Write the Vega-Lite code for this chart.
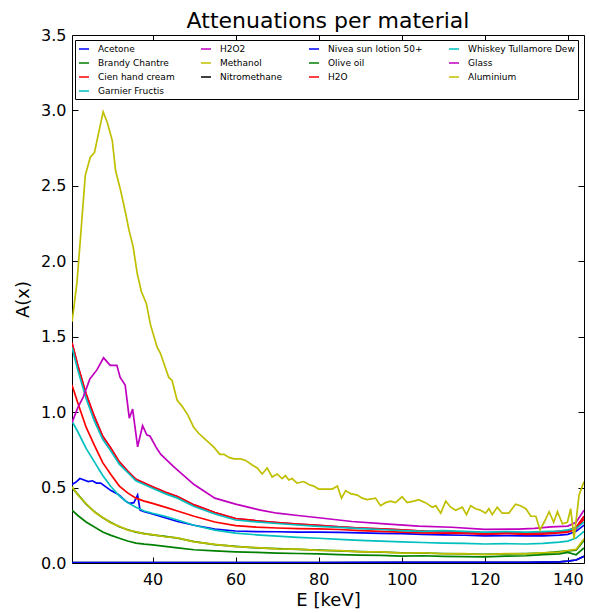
{
  "$schema": "https://vega.github.io/schema/vega-lite/v6.json",
  "width": 512,
  "height": 528,
  "autosize": "none",
  "padding": {"left": 72, "top": 35, "right": 5, "bottom": 50},
  "background": "white",
  "title": {"text": "Attenuations per material", "fontSize": 22, "font": "DejaVu Sans", "fontWeight": "normal", "color": "black", "offset": -6, "anchor": "middle"},
  "config": {
    "view": {"stroke": "black", "strokeWidth": 1},
    "axis": {"domain": false, "grid": false, "tickColor": "black", "tickSize": -6, "tickWidth": 1, "labelFont": "DejaVu Sans", "labelFontSize": 16, "labelColor": "black", "titleFont": "DejaVu Sans", "titleFontSize": 18, "titleFontWeight": "normal", "titleColor": "black"},
    "legend": {"orient": "none", "legendX": 3, "legendY": 5, "columns": 4, "symbolType": "stroke", "symbolSize": 100, "symbolStrokeWidth": 1.5, "labelFont": "DejaVu Sans", "labelFontSize": 9, "labelColor": "black", "labelOffset": 8, "columnPadding": 23, "rowPadding": 3, "strokeColor": "black", "fillColor": "white", "padding": 3, "labelLimit": 300, "gridAlign": "each"}
  },
  "data": {"values": [
    {"material":"Acetone","E":20.6,"A":0.52},{"material":"Acetone","E":21.5,"A":0.535},{"material":"Acetone","E":22.5,"A":0.56},{"material":"Acetone","E":23.5,"A":0.55},{"material":"Acetone","E":24.5,"A":0.54},{"material":"Acetone","E":25.5,"A":0.545},{"material":"Acetone","E":26.5,"A":0.53},{"material":"Acetone","E":27.5,"A":0.53},{"material":"Acetone","E":28.5,"A":0.51},{"material":"Acetone","E":30,"A":0.48},{"material":"Acetone","E":32,"A":0.45},{"material":"Acetone","E":33.5,"A":0.41},{"material":"Acetone","E":34.5,"A":0.395},{"material":"Acetone","E":35.5,"A":0.4},{"material":"Acetone","E":36.4,"A":0.45},{"material":"Acetone","E":37,"A":0.35},{"material":"Acetone","E":38,"A":0.34},{"material":"Acetone","E":40,"A":0.325},{"material":"Acetone","E":43,"A":0.3},{"material":"Acetone","E":46,"A":0.275},{"material":"Acetone","E":50,"A":0.25},{"material":"Acetone","E":55,"A":0.225},{"material":"Acetone","E":60,"A":0.212},{"material":"Acetone","E":65,"A":0.208},{"material":"Acetone","E":70,"A":0.207},{"material":"Acetone","E":75,"A":0.205},{"material":"Acetone","E":80,"A":0.205},{"material":"Acetone","E":85,"A":0.203},{"material":"Acetone","E":90,"A":0.2},{"material":"Acetone","E":95,"A":0.197},{"material":"Acetone","E":100,"A":0.195},{"material":"Acetone","E":105,"A":0.19},{"material":"Acetone","E":110,"A":0.187},{"material":"Acetone","E":115,"A":0.184},{"material":"Acetone","E":120,"A":0.18},{"material":"Acetone","E":125,"A":0.182},{"material":"Acetone","E":130,"A":0.18},{"material":"Acetone","E":134,"A":0.18},{"material":"Acetone","E":138,"A":0.185},{"material":"Acetone","E":140,"A":0.19},{"material":"Acetone","E":142,"A":0.21},{"material":"Acetone","E":143.9,"A":0.25},

    {"material":"Brandy Chantre","E":20.6,"A":0.5},{"material":"Brandy Chantre","E":22,"A":0.455},{"material":"Brandy Chantre","E":24,"A":0.39},{"material":"Brandy Chantre","E":26,"A":0.34},{"material":"Brandy Chantre","E":28,"A":0.3},{"material":"Brandy Chantre","E":30,"A":0.268},{"material":"Brandy Chantre","E":32,"A":0.24},{"material":"Brandy Chantre","E":34,"A":0.22},{"material":"Brandy Chantre","E":36,"A":0.205},{"material":"Brandy Chantre","E":38,"A":0.195},{"material":"Brandy Chantre","E":40,"A":0.186},{"material":"Brandy Chantre","E":43,"A":0.176},{"material":"Brandy Chantre","E":46,"A":0.165},{"material":"Brandy Chantre","E":50,"A":0.142},{"material":"Brandy Chantre","E":55,"A":0.122},{"material":"Brandy Chantre","E":60,"A":0.11},{"material":"Brandy Chantre","E":65,"A":0.1},{"material":"Brandy Chantre","E":70,"A":0.095},{"material":"Brandy Chantre","E":75,"A":0.09},{"material":"Brandy Chantre","E":80,"A":0.086},{"material":"Brandy Chantre","E":85,"A":0.08},{"material":"Brandy Chantre","E":90,"A":0.076},{"material":"Brandy Chantre","E":95,"A":0.072},{"material":"Brandy Chantre","E":100,"A":0.068},{"material":"Brandy Chantre","E":105,"A":0.066},{"material":"Brandy Chantre","E":110,"A":0.063},{"material":"Brandy Chantre","E":115,"A":0.06},{"material":"Brandy Chantre","E":120,"A":0.058},{"material":"Brandy Chantre","E":125,"A":0.06},{"material":"Brandy Chantre","E":130,"A":0.062},{"material":"Brandy Chantre","E":134,"A":0.065},{"material":"Brandy Chantre","E":138,"A":0.075},{"material":"Brandy Chantre","E":140,"A":0.08},{"material":"Brandy Chantre","E":142,"A":0.085},{"material":"Brandy Chantre","E":143.9,"A":0.15},

    {"material":"Cien hand cream","E":20.6,"A":1.18},{"material":"Cien hand cream","E":22,"A":1.06},{"material":"Cien hand cream","E":24,"A":0.9},{"material":"Cien hand cream","E":26,"A":0.78},{"material":"Cien hand cream","E":28,"A":0.665},{"material":"Cien hand cream","E":30,"A":0.585},{"material":"Cien hand cream","E":32,"A":0.51},{"material":"Cien hand cream","E":34,"A":0.465},{"material":"Cien hand cream","E":36,"A":0.43},{"material":"Cien hand cream","E":38,"A":0.41},{"material":"Cien hand cream","E":40,"A":0.395},{"material":"Cien hand cream","E":43,"A":0.37},{"material":"Cien hand cream","E":46,"A":0.345},{"material":"Cien hand cream","E":50,"A":0.31},{"material":"Cien hand cream","E":55,"A":0.272},{"material":"Cien hand cream","E":60,"A":0.248},{"material":"Cien hand cream","E":65,"A":0.238},{"material":"Cien hand cream","E":70,"A":0.232},{"material":"Cien hand cream","E":75,"A":0.228},{"material":"Cien hand cream","E":80,"A":0.226},{"material":"Cien hand cream","E":85,"A":0.222},{"material":"Cien hand cream","E":90,"A":0.215},{"material":"Cien hand cream","E":95,"A":0.21},{"material":"Cien hand cream","E":100,"A":0.205},{"material":"Cien hand cream","E":105,"A":0.2},{"material":"Cien hand cream","E":110,"A":0.198},{"material":"Cien hand cream","E":115,"A":0.196},{"material":"Cien hand cream","E":120,"A":0.19},{"material":"Cien hand cream","E":125,"A":0.195},{"material":"Cien hand cream","E":130,"A":0.19},{"material":"Cien hand cream","E":134,"A":0.192},{"material":"Cien hand cream","E":138,"A":0.2},{"material":"Cien hand cream","E":140,"A":0.205},{"material":"Cien hand cream","E":142,"A":0.225},{"material":"Cien hand cream","E":143.9,"A":0.29},

    {"material":"Garnier Fructis","E":20.6,"A":0.94},{"material":"Garnier Fructis","E":22,"A":0.87},{"material":"Garnier Fructis","E":24,"A":0.76},{"material":"Garnier Fructis","E":26,"A":0.67},{"material":"Garnier Fructis","E":28,"A":0.58},{"material":"Garnier Fructis","E":30,"A":0.505},{"material":"Garnier Fructis","E":32,"A":0.445},{"material":"Garnier Fructis","E":34,"A":0.4},{"material":"Garnier Fructis","E":36,"A":0.37},{"material":"Garnier Fructis","E":38,"A":0.345},{"material":"Garnier Fructis","E":40,"A":0.33},{"material":"Garnier Fructis","E":43,"A":0.31},{"material":"Garnier Fructis","E":46,"A":0.285},{"material":"Garnier Fructis","E":50,"A":0.25},{"material":"Garnier Fructis","E":55,"A":0.218},{"material":"Garnier Fructis","E":60,"A":0.198},{"material":"Garnier Fructis","E":65,"A":0.187},{"material":"Garnier Fructis","E":70,"A":0.178},{"material":"Garnier Fructis","E":75,"A":0.17},{"material":"Garnier Fructis","E":80,"A":0.164},{"material":"Garnier Fructis","E":85,"A":0.157},{"material":"Garnier Fructis","E":90,"A":0.15},{"material":"Garnier Fructis","E":95,"A":0.145},{"material":"Garnier Fructis","E":100,"A":0.14},{"material":"Garnier Fructis","E":105,"A":0.136},{"material":"Garnier Fructis","E":110,"A":0.132},{"material":"Garnier Fructis","E":115,"A":0.13},{"material":"Garnier Fructis","E":120,"A":0.126},{"material":"Garnier Fructis","E":125,"A":0.128},{"material":"Garnier Fructis","E":130,"A":0.126},{"material":"Garnier Fructis","E":134,"A":0.13},{"material":"Garnier Fructis","E":138,"A":0.138},{"material":"Garnier Fructis","E":140,"A":0.145},{"material":"Garnier Fructis","E":142,"A":0.165},{"material":"Garnier Fructis","E":143.9,"A":0.21},

    {"material":"H2O2","E":20.6,"A":1.46},{"material":"H2O2","E":22,"A":1.31},{"material":"H2O2","E":24,"A":1.12},{"material":"H2O2","E":26,"A":0.97},{"material":"H2O2","E":28,"A":0.84},{"material":"H2O2","E":30,"A":0.76},{"material":"H2O2","E":32,"A":0.67},{"material":"H2O2","E":34,"A":0.61},{"material":"H2O2","E":36,"A":0.555},{"material":"H2O2","E":38,"A":0.53},{"material":"H2O2","E":40,"A":0.505},{"material":"H2O2","E":43,"A":0.47},{"material":"H2O2","E":46,"A":0.44},{"material":"H2O2","E":50,"A":0.385},{"material":"H2O2","E":55,"A":0.335},{"material":"H2O2","E":60,"A":0.295},{"material":"H2O2","E":65,"A":0.28},{"material":"H2O2","E":70,"A":0.268},{"material":"H2O2","E":75,"A":0.258},{"material":"H2O2","E":80,"A":0.25},{"material":"H2O2","E":85,"A":0.24},{"material":"H2O2","E":90,"A":0.232},{"material":"H2O2","E":95,"A":0.226},{"material":"H2O2","E":100,"A":0.22},{"material":"H2O2","E":105,"A":0.212},{"material":"H2O2","E":110,"A":0.207},{"material":"H2O2","E":115,"A":0.203},{"material":"H2O2","E":120,"A":0.195},{"material":"H2O2","E":125,"A":0.2},{"material":"H2O2","E":130,"A":0.198},{"material":"H2O2","E":134,"A":0.2},{"material":"H2O2","E":138,"A":0.21},{"material":"H2O2","E":140,"A":0.215},{"material":"H2O2","E":142,"A":0.235},{"material":"H2O2","E":143.9,"A":0.31},

    {"material":"Methanol","E":20.6,"A":0.505},{"material":"Methanol","E":22,"A":0.452},{"material":"Methanol","E":24,"A":0.393},{"material":"Methanol","E":26,"A":0.338},{"material":"Methanol","E":28,"A":0.302},{"material":"Methanol","E":30,"A":0.265},{"material":"Methanol","E":32,"A":0.243},{"material":"Methanol","E":34,"A":0.218},{"material":"Methanol","E":36,"A":0.207},{"material":"Methanol","E":38,"A":0.193},{"material":"Methanol","E":40,"A":0.188},{"material":"Methanol","E":43,"A":0.174},{"material":"Methanol","E":46,"A":0.167},{"material":"Methanol","E":50,"A":0.14},{"material":"Methanol","E":55,"A":0.124},{"material":"Methanol","E":60,"A":0.108},{"material":"Methanol","E":65,"A":0.102},{"material":"Methanol","E":70,"A":0.093},{"material":"Methanol","E":75,"A":0.092},{"material":"Methanol","E":80,"A":0.084},{"material":"Methanol","E":85,"A":0.082},{"material":"Methanol","E":90,"A":0.074},{"material":"Methanol","E":95,"A":0.074},{"material":"Methanol","E":100,"A":0.066},{"material":"Methanol","E":105,"A":0.068},{"material":"Methanol","E":110,"A":0.061},{"material":"Methanol","E":115,"A":0.062},{"material":"Methanol","E":120,"A":0.056},{"material":"Methanol","E":125,"A":0.062},{"material":"Methanol","E":130,"A":0.06},{"material":"Methanol","E":134,"A":0.067},{"material":"Methanol","E":138,"A":0.072},{"material":"Methanol","E":140,"A":0.083},{"material":"Methanol","E":142,"A":0.09},{"material":"Methanol","E":143.9,"A":0.16},

    {"material":"Nitromethane","E":20.6,"A":0.003},{"material":"Nitromethane","E":40,"A":0.003},{"material":"Nitromethane","E":60,"A":0.003},{"material":"Nitromethane","E":80,"A":0.003},{"material":"Nitromethane","E":100,"A":0.004},{"material":"Nitromethane","E":120,"A":0.004},{"material":"Nitromethane","E":130,"A":0.005},{"material":"Nitromethane","E":138,"A":0.008},{"material":"Nitromethane","E":140,"A":0.012},{"material":"Nitromethane","E":142,"A":0.02},{"material":"Nitromethane","E":143.9,"A":0.045},

    {"material":"Nivea sun lotion 50+","E":20.6,"A":0.003},{"material":"Nivea sun lotion 50+","E":40,"A":0.003},{"material":"Nivea sun lotion 50+","E":60,"A":0.003},{"material":"Nivea sun lotion 50+","E":80,"A":0.003},{"material":"Nivea sun lotion 50+","E":100,"A":0.004},{"material":"Nivea sun lotion 50+","E":120,"A":0.004},{"material":"Nivea sun lotion 50+","E":130,"A":0.005},{"material":"Nivea sun lotion 50+","E":138,"A":0.008},{"material":"Nivea sun lotion 50+","E":140,"A":0.012},{"material":"Nivea sun lotion 50+","E":142,"A":0.02},{"material":"Nivea sun lotion 50+","E":143.9,"A":0.045},

    {"material":"Olive oil","E":20.6,"A":0.35},{"material":"Olive oil","E":22,"A":0.315},{"material":"Olive oil","E":24,"A":0.272},{"material":"Olive oil","E":26,"A":0.238},{"material":"Olive oil","E":28,"A":0.206},{"material":"Olive oil","E":30,"A":0.183},{"material":"Olive oil","E":32,"A":0.164},{"material":"Olive oil","E":34,"A":0.146},{"material":"Olive oil","E":36,"A":0.132},{"material":"Olive oil","E":38,"A":0.125},{"material":"Olive oil","E":40,"A":0.12},{"material":"Olive oil","E":43,"A":0.11},{"material":"Olive oil","E":46,"A":0.1},{"material":"Olive oil","E":50,"A":0.088},{"material":"Olive oil","E":55,"A":0.08},{"material":"Olive oil","E":60,"A":0.074},{"material":"Olive oil","E":65,"A":0.07},{"material":"Olive oil","E":70,"A":0.066},{"material":"Olive oil","E":75,"A":0.063},{"material":"Olive oil","E":80,"A":0.06},{"material":"Olive oil","E":85,"A":0.056},{"material":"Olive oil","E":90,"A":0.052},{"material":"Olive oil","E":95,"A":0.05},{"material":"Olive oil","E":100,"A":0.046},{"material":"Olive oil","E":105,"A":0.048},{"material":"Olive oil","E":110,"A":0.044},{"material":"Olive oil","E":115,"A":0.042},{"material":"Olive oil","E":120,"A":0.04},{"material":"Olive oil","E":125,"A":0.045},{"material":"Olive oil","E":130,"A":0.048},{"material":"Olive oil","E":134,"A":0.055},{"material":"Olive oil","E":138,"A":0.06},{"material":"Olive oil","E":140,"A":0.07},{"material":"Olive oil","E":142,"A":0.055},{"material":"Olive oil","E":143.9,"A":0.1},

    {"material":"H2O","E":20.6,"A":1.46},{"material":"H2O","E":22,"A":1.31},{"material":"H2O","E":24,"A":1.12},{"material":"H2O","E":26,"A":0.97},{"material":"H2O","E":28,"A":0.84},{"material":"H2O","E":30,"A":0.76},{"material":"H2O","E":32,"A":0.67},{"material":"H2O","E":34,"A":0.61},{"material":"H2O","E":36,"A":0.555},{"material":"H2O","E":38,"A":0.53},{"material":"H2O","E":40,"A":0.505},{"material":"H2O","E":43,"A":0.47},{"material":"H2O","E":46,"A":0.44},{"material":"H2O","E":50,"A":0.385},{"material":"H2O","E":55,"A":0.335},{"material":"H2O","E":60,"A":0.295},{"material":"H2O","E":65,"A":0.28},{"material":"H2O","E":70,"A":0.268},{"material":"H2O","E":75,"A":0.258},{"material":"H2O","E":80,"A":0.25},{"material":"H2O","E":85,"A":0.24},{"material":"H2O","E":90,"A":0.232},{"material":"H2O","E":95,"A":0.226},{"material":"H2O","E":100,"A":0.22},{"material":"H2O","E":105,"A":0.212},{"material":"H2O","E":110,"A":0.207},{"material":"H2O","E":115,"A":0.203},{"material":"H2O","E":120,"A":0.195},{"material":"H2O","E":125,"A":0.2},{"material":"H2O","E":130,"A":0.198},{"material":"H2O","E":134,"A":0.2},{"material":"H2O","E":138,"A":0.21},{"material":"H2O","E":140,"A":0.215},{"material":"H2O","E":142,"A":0.235},{"material":"H2O","E":143.9,"A":0.31},

    {"material":"Whiskey Tullamore Dew","E":20.6,"A":1.43},{"material":"Whiskey Tullamore Dew","E":22,"A":1.28},{"material":"Whiskey Tullamore Dew","E":24,"A":1.09},{"material":"Whiskey Tullamore Dew","E":26,"A":0.94},{"material":"Whiskey Tullamore Dew","E":28,"A":0.82},{"material":"Whiskey Tullamore Dew","E":30,"A":0.74},{"material":"Whiskey Tullamore Dew","E":32,"A":0.655},{"material":"Whiskey Tullamore Dew","E":34,"A":0.6},{"material":"Whiskey Tullamore Dew","E":36,"A":0.545},{"material":"Whiskey Tullamore Dew","E":38,"A":0.52},{"material":"Whiskey Tullamore Dew","E":40,"A":0.495},{"material":"Whiskey Tullamore Dew","E":43,"A":0.46},{"material":"Whiskey Tullamore Dew","E":46,"A":0.43},{"material":"Whiskey Tullamore Dew","E":50,"A":0.375},{"material":"Whiskey Tullamore Dew","E":55,"A":0.325},{"material":"Whiskey Tullamore Dew","E":60,"A":0.285},{"material":"Whiskey Tullamore Dew","E":65,"A":0.272},{"material":"Whiskey Tullamore Dew","E":70,"A":0.262},{"material":"Whiskey Tullamore Dew","E":75,"A":0.252},{"material":"Whiskey Tullamore Dew","E":80,"A":0.243},{"material":"Whiskey Tullamore Dew","E":85,"A":0.236},{"material":"Whiskey Tullamore Dew","E":90,"A":0.228},{"material":"Whiskey Tullamore Dew","E":95,"A":0.222},{"material":"Whiskey Tullamore Dew","E":100,"A":0.215},{"material":"Whiskey Tullamore Dew","E":105,"A":0.21},{"material":"Whiskey Tullamore Dew","E":110,"A":0.215},{"material":"Whiskey Tullamore Dew","E":115,"A":0.21},{"material":"Whiskey Tullamore Dew","E":120,"A":0.205},{"material":"Whiskey Tullamore Dew","E":125,"A":0.208},{"material":"Whiskey Tullamore Dew","E":130,"A":0.205},{"material":"Whiskey Tullamore Dew","E":134,"A":0.208},{"material":"Whiskey Tullamore Dew","E":138,"A":0.212},{"material":"Whiskey Tullamore Dew","E":140,"A":0.22},{"material":"Whiskey Tullamore Dew","E":142,"A":0.23},{"material":"Whiskey Tullamore Dew","E":143.9,"A":0.27},

    {"material":"Glass","E":20.6,"A":0.93},{"material":"Glass","E":22,"A":1.03},{"material":"Glass","E":23.3,"A":1.1},{"material":"Glass","E":24.9,"A":1.22},{"material":"Glass","E":26.6,"A":1.28},{"material":"Glass","E":28.2,"A":1.36},{"material":"Glass","E":29.8,"A":1.31},{"material":"Glass","E":31.4,"A":1.31},{"material":"Glass","E":32.2,"A":1.23},{"material":"Glass","E":33.4,"A":1.18},{"material":"Glass","E":34.4,"A":0.96},{"material":"Glass","E":35.2,"A":1.02},{"material":"Glass","E":36.4,"A":0.77},{"material":"Glass","E":37.6,"A":0.91},{"material":"Glass","E":38.6,"A":0.85},{"material":"Glass","E":39.4,"A":0.84},{"material":"Glass","E":41,"A":0.76},{"material":"Glass","E":42,"A":0.72},{"material":"Glass","E":45,"A":0.64},{"material":"Glass","E":50,"A":0.52},{"material":"Glass","E":55,"A":0.43},{"material":"Glass","E":60,"A":0.39},{"material":"Glass","E":63,"A":0.37},{"material":"Glass","E":66,"A":0.35},{"material":"Glass","E":70,"A":0.33},{"material":"Glass","E":75,"A":0.315},{"material":"Glass","E":80,"A":0.3},{"material":"Glass","E":88,"A":0.275},{"material":"Glass","E":96,"A":0.26},{"material":"Glass","E":104,"A":0.245},{"material":"Glass","E":112,"A":0.237},{"material":"Glass","E":120,"A":0.223},{"material":"Glass","E":128,"A":0.225},{"material":"Glass","E":132,"A":0.23},{"material":"Glass","E":136,"A":0.24},{"material":"Glass","E":140,"A":0.245},{"material":"Glass","E":142,"A":0.27},{"material":"Glass","E":143.9,"A":0.35},

    {"material":"Aluminium","E":20.6,"A":1.6},{"material":"Aluminium","E":20.9,"A":1.66},{"material":"Aluminium","E":21.8,"A":1.86},{"material":"Aluminium","E":22.6,"A":2.14},{"material":"Aluminium","E":23.8,"A":2.57},{"material":"Aluminium","E":25,"A":2.69},{"material":"Aluminium","E":26,"A":2.72},{"material":"Aluminium","E":27,"A":2.85},{"material":"Aluminium","E":28.1,"A":2.99},{"material":"Aluminium","E":29.1,"A":2.92},{"material":"Aluminium","E":30.3,"A":2.8},{"material":"Aluminium","E":31.1,"A":2.6},{"material":"Aluminium","E":32.3,"A":2.47},{"material":"Aluminium","E":33.5,"A":2.32},{"material":"Aluminium","E":34.3,"A":2.21},{"material":"Aluminium","E":35.3,"A":2.1},{"material":"Aluminium","E":36.3,"A":1.92},{"material":"Aluminium","E":37.3,"A":1.8},{"material":"Aluminium","E":38.5,"A":1.72},{"material":"Aluminium","E":39.5,"A":1.58},{"material":"Aluminium","E":41.1,"A":1.43},{"material":"Aluminium","E":41.9,"A":1.39},{"material":"Aluminium","E":43.9,"A":1.23},{"material":"Aluminium","E":44.7,"A":1.21},{"material":"Aluminium","E":45.9,"A":1.08},{"material":"Aluminium","E":47.1,"A":1.04},{"material":"Aluminium","E":48.5,"A":0.98},{"material":"Aluminium","E":49.9,"A":0.9},{"material":"Aluminium","E":51.1,"A":0.86},{"material":"Aluminium","E":52.3,"A":0.83},{"material":"Aluminium","E":53.5,"A":0.8},{"material":"Aluminium","E":54.7,"A":0.77},{"material":"Aluminium","E":56.2,"A":0.72},{"material":"Aluminium","E":57.2,"A":0.72},{"material":"Aluminium","E":58.4,"A":0.7},{"material":"Aluminium","E":59.6,"A":0.69},{"material":"Aluminium","E":61.2,"A":0.69},{"material":"Aluminium","E":62.4,"A":0.68},{"material":"Aluminium","E":64,"A":0.65},{"material":"Aluminium","E":65.2,"A":0.63},{"material":"Aluminium","E":66.4,"A":0.59},{"material":"Aluminium","E":67.6,"A":0.63},{"material":"Aluminium","E":68.8,"A":0.57},{"material":"Aluminium","E":70,"A":0.59},{"material":"Aluminium","E":71.2,"A":0.56},{"material":"Aluminium","E":72,"A":0.58},{"material":"Aluminium","E":72.8,"A":0.55},{"material":"Aluminium","E":73.6,"A":0.56},{"material":"Aluminium","E":74.8,"A":0.53},{"material":"Aluminium","E":76.4,"A":0.54},{"material":"Aluminium","E":77.6,"A":0.52},{"material":"Aluminium","E":78.8,"A":0.51},{"material":"Aluminium","E":80,"A":0.49},{"material":"Aluminium","E":81.2,"A":0.49},{"material":"Aluminium","E":83.3,"A":0.49},{"material":"Aluminium","E":84.5,"A":0.51},{"material":"Aluminium","E":85.5,"A":0.43},{"material":"Aluminium","E":86.5,"A":0.48},{"material":"Aluminium","E":87.7,"A":0.46},{"material":"Aluminium","E":89.3,"A":0.45},{"material":"Aluminium","E":90.5,"A":0.43},{"material":"Aluminium","E":91.7,"A":0.42},{"material":"Aluminium","E":93.7,"A":0.43},{"material":"Aluminium","E":94.9,"A":0.38},{"material":"Aluminium","E":96.1,"A":0.4},{"material":"Aluminium","E":97.3,"A":0.41},{"material":"Aluminium","E":98.5,"A":0.4},{"material":"Aluminium","E":99.3,"A":0.42},{"material":"Aluminium","E":100.1,"A":0.44},{"material":"Aluminium","E":101.3,"A":0.4},{"material":"Aluminium","E":102.9,"A":0.41},{"material":"Aluminium","E":104.1,"A":0.42},{"material":"Aluminium","E":105.7,"A":0.4},{"material":"Aluminium","E":107.4,"A":0.37},{"material":"Aluminium","E":108.2,"A":0.38},{"material":"Aluminium","E":109.4,"A":0.33},{"material":"Aluminium","E":110.6,"A":0.41},{"material":"Aluminium","E":111.8,"A":0.37},{"material":"Aluminium","E":113,"A":0.35},{"material":"Aluminium","E":114.6,"A":0.37},{"material":"Aluminium","E":115.6,"A":0.32},{"material":"Aluminium","E":116.6,"A":0.38},{"material":"Aluminium","E":117.8,"A":0.36},{"material":"Aluminium","E":119,"A":0.35},{"material":"Aluminium","E":120.2,"A":0.33},{"material":"Aluminium","E":121,"A":0.36},{"material":"Aluminium","E":121.8,"A":0.32},{"material":"Aluminium","E":123,"A":0.37},{"material":"Aluminium","E":124.2,"A":0.33},{"material":"Aluminium","E":125.8,"A":0.33},{"material":"Aluminium","E":127.4,"A":0.39},{"material":"Aluminium","E":128.6,"A":0.38},{"material":"Aluminium","E":129.9,"A":0.36},{"material":"Aluminium","E":131.1,"A":0.31},{"material":"Aluminium","E":132.3,"A":0.31},{"material":"Aluminium","E":133.3,"A":0.22},{"material":"Aluminium","E":134.3,"A":0.27},{"material":"Aluminium","E":135.5,"A":0.34},{"material":"Aluminium","E":136.6,"A":0.27},{"material":"Aluminium","E":137.5,"A":0.34},{"material":"Aluminium","E":138.7,"A":0.26},{"material":"Aluminium","E":139.9,"A":0.27},{"material":"Aluminium","E":140.7,"A":0.36},{"material":"Aluminium","E":141.5,"A":0.16},{"material":"Aluminium","E":142.7,"A":0.45},{"material":"Aluminium","E":143.9,"A":0.54}
  ]},
  "layer": [
    {
      "mark": {"type": "line", "strokeWidth": 1.7, "clip": true},
      "encoding": {
        "x": {"field": "E", "type": "quantitative", "scale": {"domain": [20.6, 143.9], "nice": false, "zero": false},
              "axis": {"orient": "bottom", "title": "E [keV]", "values": [40, 60, 80, 100, 120, 140], "labelPadding": 14, "titlePadding": 4}},
        "y": {"field": "A", "type": "quantitative", "scale": {"domain": [0, 3.5], "nice": false, "zero": true},
              "axis": {"orient": "left", "title": "A(x)", "values": [0, 0.5, 1, 1.5, 2, 2.5, 3, 3.5], "format": ".1f", "labelPadding": 12, "titlePadding": 8}},
        "color": {"field": "material", "type": "nominal",
                  "scale": {"domain": ["Acetone", "Brandy Chantre", "Glass", "H2O", "H2O2", "Methanol", "Cien hand cream", "Aluminium", "Nivea sun lotion 50+", "Olive oil", "Nitromethane", "Garnier Fructis", "Whiskey Tullamore Dew"],
                            "range": ["#0000ff", "#008000", "#bf00bf", "#ff0000", "#bf00bf", "#bfbf00", "#ff0000", "#bfbf00", "#0000ff", "#008000", "#000000", "#00bfbf", "#00bfbf"]},
                  "legend": {"title": null}}
      }
    },
    {
      "mark": {"type": "point", "opacity": 0},
      "encoding": {
        "x": {"field": "E", "type": "quantitative", "axis": {"orient": "top", "labels": false, "title": null, "values": [40, 60, 80, 100, 120, 140]}},
        "y": {"field": "A", "type": "quantitative", "axis": {"orient": "right", "labels": false, "title": null, "values": [0, 0.5, 1, 1.5, 2, 2.5, 3, 3.5]}}
      }
    }
  ],
  "resolve": {"axis": {"x": "independent", "y": "independent"}}
}
